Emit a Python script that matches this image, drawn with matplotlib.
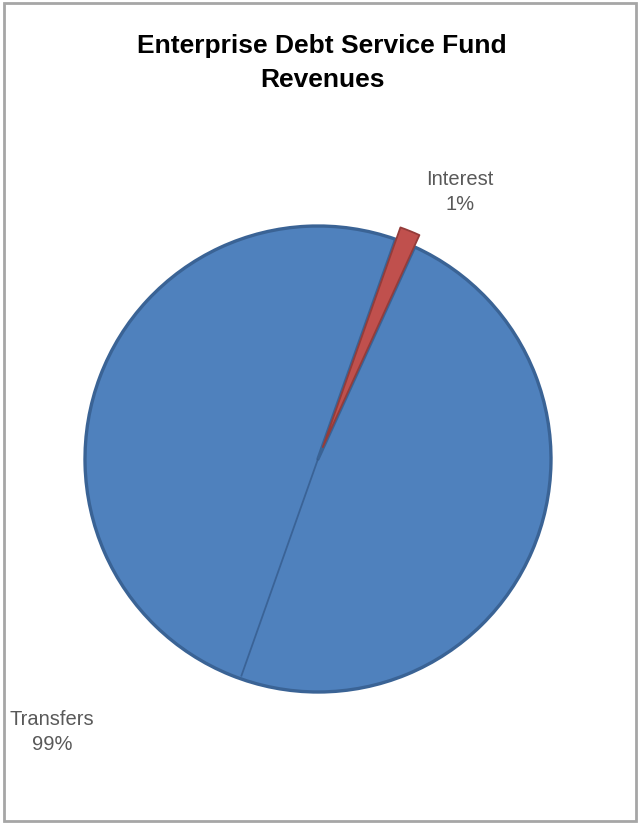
import numpy as np
import matplotlib
matplotlib.use("Agg")
import matplotlib.pyplot as plt
from matplotlib.patches import Rectangle

# revenue shares (percent)
categories = ["Transfers", "Interest"]
shares = [98.6, 1.4]
colors = ["#4F81BD", "#C0504D"]
edges = ["#3A6395", "#943C3A"]

W, H = 640, 823
fig = plt.figure(figsize=(W / 100, H / 100), dpi=100)
ax = fig.add_axes([0, 0, 1, 1])

# pie geometry in pixels
cx, cy, R = 318, H - 459, 233

wedges, _ = ax.pie(shares, colors=colors, startangle=65.5, counterclock=False,
                   explode=[0, 0.055], radius=1, frame=True,
                   wedgeprops=dict(joinstyle="round"))
for w, ec, lw in zip(wedges, edges, [2.4, 1.3]):
    w.set_edgecolor(ec)
    w.set_linewidth(lw)

# crease across the big slice, opposite the interest edge
t = np.deg2rad(wedges[0].theta1 + 180)
ax.plot([0, 0.99 * np.cos(t)], [0, 0.99 * np.sin(t)], color="#34598A",
        lw=1.3, alpha=0.75, solid_capstyle="butt")

ax.set_xlim(-cx / R, (W - cx) / R)
ax.set_ylim(-cy / R, (H - cy) / R)
ax.set_aspect("equal")
ax.axis("off")

# chart border
fig.patches.append(Rectangle((4 / W, 2 / H), 632 / W, 818 / H, transform=fig.transFigure,
                             fill=False, edgecolor="#A6A6A6", linewidth=2))

font = ["Liberation Sans", "DejaVu Sans"]
fig.text(322 / W, 1 - 63 / H, "Enterprise Debt Service Fund\nRevenues", ha="center",
         va="center", fontsize=19, fontweight="bold", family=font, linespacing=1.5)

fig.text(460 / W, 1 - 192 / H, "%s\n%.0f%%" % (categories[1], shares[1]), ha="center",
         va="center", fontsize=14.5, color="#595959", family=font, linespacing=1.35)
fig.text(52 / W, 1 - 732 / H, "%s\n%.0f%%" % (categories[0], shares[0]), ha="center",
         va="center", fontsize=14.5, color="#595959", family=font, linespacing=1.35)

fig.savefig("out.png", dpi=100)
